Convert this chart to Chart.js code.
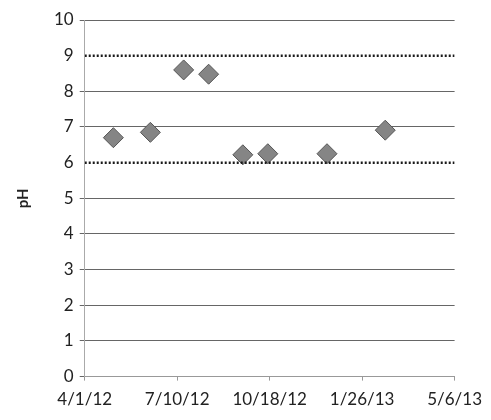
<!DOCTYPE html>
<html>
<head>
<meta charset="utf-8">
<script src="https://cdn.jsdelivr.net/npm/chart.js@4"></script>
<style>
  html,body{margin:0;padding:0;background:#fff;}
  #wrap{width:491px;height:420px;}
</style>
</head>
<body>
<div id="wrap"><canvas id="phChart"></canvas></div>
<script>
const startDate = "2012-04-01";
const sampleDates = ["2012-05-02","2012-06-11","2012-07-17","2012-08-13","2012-09-19","2012-10-16","2012-12-19","2013-02-20"];
const phValues = [6.70, 6.85, 8.60, 8.48, 6.22, 6.25, 6.25, 6.91];
const tickLabels = ["4/1/12","7/10/12","10/18/12","1/26/13","5/6/13"];
const lowerLimit = 6;
const upperLimit = 9;
const xMax = 400;

const DAY = 86400000;
const t0 = Date.parse(startDate);
const dayOf = d => Math.round((Date.parse(d) - t0) / DAY);

const points = sampleDates.map((d,i)=>({x:dayOf(d), y:phValues[i]}));
const limitLine = v => [{x:0,y:v},{x:xMax,y:v}];

const FONT = "Lato, 'Open Sans', sans-serif";

new Chart(document.getElementById("phChart"),{
  type:"scatter",
  data:{
    datasets:[
      {
        data:limitLine(upperLimit),
        showLine:true,
        borderColor:"#1a1a1a",
        borderWidth:2.5,
        borderDash:[2,2],
        pointRadius:0
      },
      {
        data:limitLine(lowerLimit),
        showLine:true,
        borderColor:"#1a1a1a",
        borderWidth:2.5,
        borderDash:[2,2],
        pointRadius:0
      },
      {
        data:points,
        pointStyle:"rectRot",
        pointRadius:10,
        backgroundColor:"#858585",
        borderColor:"#555",
        borderWidth:1
      }
    ]
  },
  options:{
    responsive:true,
    maintainAspectRatio:false,
    animation:false,
    layout:{ padding:{ top:20, right:16, left:10, bottom:1 } },
    plugins:{ legend:{display:false}, tooltip:{enabled:false} },
    scales:{
      x:{
        type:"linear",
        min:0, max:xMax,
        ticks:{
          stepSize:100,
          color:"#222",
          padding:9,
          font:{family:FONT, size:17},
          callback:(v)=>tickLabels[v/100] ?? ""
        },
        grid:{ drawOnChartArea:false, tickLength:4, color:"#999" },
        border:{ color:"#999" }
      },
      y:{
        min:0, max:10,
        ticks:{
          stepSize:1,
          color:"#222",
          padding:6,
          font:{family:FONT, size:17}
        },
        grid:{
          tickLength:5,
          color:(c)=> (c.tick && (c.tick.value===lowerLimit || c.tick.value===upperLimit)) ? "rgba(0,0,0,0)" : "#666"
        },
        border:{ color:"#aaa" },
        title:{
          display:true,
          text:"pH",
          color:"#222",
          font:{family:FONT, size:15, weight:"bold"},
          padding:{bottom:16}
        }
      }
    }
  }
});
</script>
</body>
</html>
